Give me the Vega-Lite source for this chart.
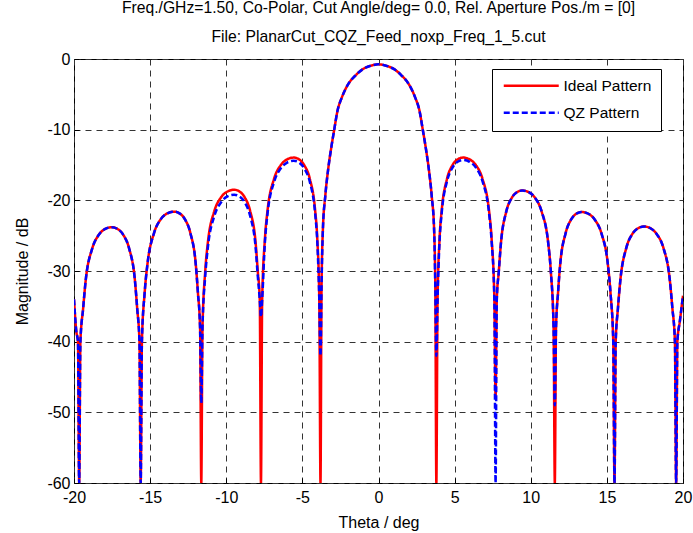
{
  "$schema": "https://vega.github.io/schema/vega-lite/v6.json",
  "autosize": "none",
  "width": 609,
  "height": 424,
  "padding": {"left": 74, "top": 59, "right": 10, "bottom": 50},
  "background": "white",
  "title": {
    "text": ["Freq./GHz=1.50, Co-Polar, Cut Angle/deg= 0.0, Rel. Aperture Pos./m = [0]", "File: PlanarCut_CQZ_Feed_noxp_Freq_1_5.cut"],
    "font": "Liberation Sans",
    "fontSize": 15.7,
    "fontWeight": "normal",
    "color": "black",
    "lineHeight": 29,
    "anchor": "middle",
    "offset": 5
  },
  "config": {
    "view": {"stroke": "black", "strokeWidth": 1},
    "axis": {
      "labelFont": "Liberation Sans",
      "labelFontSize": 16,
      "labelColor": "black",
      "titleFont": "Liberation Sans",
      "titleFontSize": 16,
      "titleFontWeight": "normal",
      "titleColor": "black",
      "domain": false,
      "ticks": true,
      "tickSize": -5,
      "tickColor": "black",
      "tickWidth": 1,
      "grid": true,
      "gridDash": [6, 5],
      "gridColor": "#333333",
      "gridWidth": 1
    },
    "legend": {
      "labelFont": "Liberation Sans",
      "labelFontSize": 15.5,
      "labelColor": "black"
    }
  },
  "data": {
    "values": [
      {"t": -20, "Ideal Pattern": -34, "QZ Pattern": -34},
      {"t": -19.85, "Ideal Pattern": -38.5, "QZ Pattern": -38.5},
      {"t": -19.74, "Ideal Pattern": -40, "QZ Pattern": -40},
      {"t": -19.66, "Ideal Pattern": -60, "QZ Pattern": -60},
      {"t": -19.58, "Ideal Pattern": -40, "QZ Pattern": -40},
      {"t": -19.4, "Ideal Pattern": -35.3, "QZ Pattern": -35.3},
      {"t": -19.23, "Ideal Pattern": -31.3, "QZ Pattern": -31.3},
      {"t": -18.8, "Ideal Pattern": -26.8, "QZ Pattern": -26.8},
      {"t": -18.38, "Ideal Pattern": -24.9, "QZ Pattern": -24.9},
      {"t": -17.95, "Ideal Pattern": -24.05, "QZ Pattern": -24.05},
      {"t": -17.52, "Ideal Pattern": -23.8, "QZ Pattern": -23.8},
      {"t": -17.14, "Ideal Pattern": -24.05, "QZ Pattern": -24.05},
      {"t": -16.76, "Ideal Pattern": -24.9, "QZ Pattern": -24.9},
      {"t": -16.38, "Ideal Pattern": -26.8, "QZ Pattern": -26.8},
      {"t": -16.0, "Ideal Pattern": -31.3, "QZ Pattern": -31.3},
      {"t": -15.85, "Ideal Pattern": -35.3, "QZ Pattern": -35.3},
      {"t": -15.7, "Ideal Pattern": -40, "QZ Pattern": -40},
      {"t": -15.62, "Ideal Pattern": -60, "QZ Pattern": -60},
      {"t": -15.54, "Ideal Pattern": -40, "QZ Pattern": -40},
      {"t": -15.36, "Ideal Pattern": -33.1, "QZ Pattern": -33.1},
      {"t": -15.18, "Ideal Pattern": -29.1, "QZ Pattern": -29.1},
      {"t": -14.74, "Ideal Pattern": -24.6, "QZ Pattern": -24.6},
      {"t": -14.31, "Ideal Pattern": -22.7, "QZ Pattern": -22.7},
      {"t": -13.87, "Ideal Pattern": -21.85, "QZ Pattern": -21.85},
      {"t": -13.43, "Ideal Pattern": -21.6, "QZ Pattern": -21.6},
      {"t": -13.07, "Ideal Pattern": -21.85, "QZ Pattern": -21.85},
      {"t": -12.71, "Ideal Pattern": -22.7, "QZ Pattern": -22.7},
      {"t": -12.36, "Ideal Pattern": -24.6, "QZ Pattern": -24.6},
      {"t": -12.0, "Ideal Pattern": -29.1, "QZ Pattern": -29.1},
      {"t": -11.86, "Ideal Pattern": -33.1, "QZ Pattern": -33.1},
      {"t": -11.72, "Ideal Pattern": -38, "QZ Pattern": -38},
      {"t": -11.64, "Ideal Pattern": -60, "QZ Pattern": -48.7},
      {"t": -11.56, "Ideal Pattern": -38, "QZ Pattern": -38},
      {"t": -11.38, "Ideal Pattern": -30.0, "QZ Pattern": -30.7},
      {"t": -11.21, "Ideal Pattern": -26.0, "QZ Pattern": -26.7},
      {"t": -10.78, "Ideal Pattern": -21.5, "QZ Pattern": -22.2},
      {"t": -10.35, "Ideal Pattern": -19.6, "QZ Pattern": -20.3},
      {"t": -9.92, "Ideal Pattern": -18.75, "QZ Pattern": -19.45},
      {"t": -9.48, "Ideal Pattern": -18.5, "QZ Pattern": -19.2},
      {"t": -9.13, "Ideal Pattern": -18.75, "QZ Pattern": -19.45},
      {"t": -8.78, "Ideal Pattern": -19.6, "QZ Pattern": -20.3},
      {"t": -8.43, "Ideal Pattern": -21.5, "QZ Pattern": -22.2},
      {"t": -8.07, "Ideal Pattern": -26.0, "QZ Pattern": -26.7},
      {"t": -7.93, "Ideal Pattern": -30.0, "QZ Pattern": -30.7},
      {"t": -7.8, "Ideal Pattern": -34, "QZ Pattern": -34},
      {"t": -7.72, "Ideal Pattern": -60, "QZ Pattern": -36.5},
      {"t": -7.64, "Ideal Pattern": -34, "QZ Pattern": -34},
      {"t": -7.46, "Ideal Pattern": -25.45, "QZ Pattern": -25.9},
      {"t": -7.29, "Ideal Pattern": -21.45, "QZ Pattern": -21.9},
      {"t": -6.86, "Ideal Pattern": -16.95, "QZ Pattern": -17.4},
      {"t": -6.43, "Ideal Pattern": -15.05, "QZ Pattern": -15.5},
      {"t": -6.0, "Ideal Pattern": -14.2, "QZ Pattern": -14.65},
      {"t": -5.57, "Ideal Pattern": -13.95, "QZ Pattern": -14.4},
      {"t": -5.22, "Ideal Pattern": -14.2, "QZ Pattern": -14.65},
      {"t": -4.87, "Ideal Pattern": -15.05, "QZ Pattern": -15.5},
      {"t": -4.51, "Ideal Pattern": -16.95, "QZ Pattern": -17.4},
      {"t": -4.16, "Ideal Pattern": -21.45, "QZ Pattern": -21.9},
      {"t": -4.02, "Ideal Pattern": -25.45, "QZ Pattern": -25.9},
      {"t": -3.89, "Ideal Pattern": -34, "QZ Pattern": -34},
      {"t": -3.81, "Ideal Pattern": -60, "QZ Pattern": -42},
      {"t": -3.74, "Ideal Pattern": -32, "QZ Pattern": -32},
      {"t": -3.65, "Ideal Pattern": -24, "QZ Pattern": -24},
      {"t": -3.5, "Ideal Pattern": -19.5, "QZ Pattern": -19.5},
      {"t": -3.3, "Ideal Pattern": -15.5, "QZ Pattern": -15.5},
      {"t": -3.1, "Ideal Pattern": -12.5, "QZ Pattern": -12.5},
      {"t": -2.9, "Ideal Pattern": -9.9, "QZ Pattern": -9.9},
      {"t": -2.7, "Ideal Pattern": -7.4, "QZ Pattern": -7.4},
      {"t": -2.4, "Ideal Pattern": -5.4, "QZ Pattern": -5.4},
      {"t": -2.0, "Ideal Pattern": -3.6, "QZ Pattern": -3.6},
      {"t": -1.5, "Ideal Pattern": -2.3, "QZ Pattern": -2.3},
      {"t": -1.0, "Ideal Pattern": -1.4, "QZ Pattern": -1.4},
      {"t": -0.5, "Ideal Pattern": -0.95, "QZ Pattern": -0.95},
      {"t": 0, "Ideal Pattern": -0.75, "QZ Pattern": -0.75},
      {"t": 0.5, "Ideal Pattern": -0.95, "QZ Pattern": -0.95},
      {"t": 1.0, "Ideal Pattern": -1.4, "QZ Pattern": -1.4},
      {"t": 1.5, "Ideal Pattern": -2.3, "QZ Pattern": -2.3},
      {"t": 2.0, "Ideal Pattern": -3.6, "QZ Pattern": -3.6},
      {"t": 2.4, "Ideal Pattern": -5.4, "QZ Pattern": -5.4},
      {"t": 2.7, "Ideal Pattern": -7.4, "QZ Pattern": -7.4},
      {"t": 2.9, "Ideal Pattern": -9.9, "QZ Pattern": -9.9},
      {"t": 3.1, "Ideal Pattern": -12.5, "QZ Pattern": -12.5},
      {"t": 3.3, "Ideal Pattern": -15.5, "QZ Pattern": -15.5},
      {"t": 3.5, "Ideal Pattern": -19.5, "QZ Pattern": -19.5},
      {"t": 3.65, "Ideal Pattern": -24, "QZ Pattern": -24},
      {"t": 3.73, "Ideal Pattern": -32, "QZ Pattern": -32},
      {"t": 3.8, "Ideal Pattern": -60, "QZ Pattern": -42},
      {"t": 3.88, "Ideal Pattern": -34, "QZ Pattern": -34},
      {"t": 4.01, "Ideal Pattern": -25.45, "QZ Pattern": -25.8},
      {"t": 4.15, "Ideal Pattern": -21.45, "QZ Pattern": -21.8},
      {"t": 4.5, "Ideal Pattern": -16.95, "QZ Pattern": -17.3},
      {"t": 4.85, "Ideal Pattern": -15.05, "QZ Pattern": -15.4},
      {"t": 5.2, "Ideal Pattern": -14.2, "QZ Pattern": -14.55},
      {"t": 5.55, "Ideal Pattern": -13.95, "QZ Pattern": -14.3},
      {"t": 5.98, "Ideal Pattern": -14.2, "QZ Pattern": -14.55},
      {"t": 6.41, "Ideal Pattern": -15.05, "QZ Pattern": -15.4},
      {"t": 6.83, "Ideal Pattern": -16.95, "QZ Pattern": -17.3},
      {"t": 7.26, "Ideal Pattern": -21.45, "QZ Pattern": -21.8},
      {"t": 7.43, "Ideal Pattern": -25.45, "QZ Pattern": -25.8},
      {"t": 7.61, "Ideal Pattern": -34, "QZ Pattern": -34},
      {"t": 7.69, "Ideal Pattern": -47.8, "QZ Pattern": -60},
      {"t": 7.77, "Ideal Pattern": -34, "QZ Pattern": -34},
      {"t": 7.9, "Ideal Pattern": -30.1, "QZ Pattern": -30.1},
      {"t": 8.04, "Ideal Pattern": -26.1, "QZ Pattern": -26.1},
      {"t": 8.39, "Ideal Pattern": -21.6, "QZ Pattern": -21.6},
      {"t": 8.74, "Ideal Pattern": -19.7, "QZ Pattern": -19.7},
      {"t": 9.09, "Ideal Pattern": -18.85, "QZ Pattern": -18.85},
      {"t": 9.44, "Ideal Pattern": -18.6, "QZ Pattern": -18.6},
      {"t": 9.87, "Ideal Pattern": -18.85, "QZ Pattern": -18.85},
      {"t": 10.3, "Ideal Pattern": -19.7, "QZ Pattern": -19.7},
      {"t": 10.72, "Ideal Pattern": -21.6, "QZ Pattern": -21.6},
      {"t": 11.15, "Ideal Pattern": -26.1, "QZ Pattern": -26.1},
      {"t": 11.32, "Ideal Pattern": -30.1, "QZ Pattern": -30.1},
      {"t": 11.5, "Ideal Pattern": -38, "QZ Pattern": -38},
      {"t": 11.58, "Ideal Pattern": -60, "QZ Pattern": -49},
      {"t": 11.66, "Ideal Pattern": -38, "QZ Pattern": -38},
      {"t": 11.79, "Ideal Pattern": -33.15, "QZ Pattern": -33.15},
      {"t": 11.93, "Ideal Pattern": -29.15, "QZ Pattern": -29.15},
      {"t": 12.29, "Ideal Pattern": -24.65, "QZ Pattern": -24.65},
      {"t": 12.64, "Ideal Pattern": -22.75, "QZ Pattern": -22.75},
      {"t": 12.99, "Ideal Pattern": -21.9, "QZ Pattern": -21.9},
      {"t": 13.34, "Ideal Pattern": -21.65, "QZ Pattern": -21.65},
      {"t": 13.78, "Ideal Pattern": -21.9, "QZ Pattern": -21.9},
      {"t": 14.21, "Ideal Pattern": -22.75, "QZ Pattern": -22.75},
      {"t": 14.64, "Ideal Pattern": -24.65, "QZ Pattern": -24.65},
      {"t": 15.07, "Ideal Pattern": -29.15, "QZ Pattern": -29.15},
      {"t": 15.24, "Ideal Pattern": -33.15, "QZ Pattern": -33.15},
      {"t": 15.42, "Ideal Pattern": -40, "QZ Pattern": -40},
      {"t": 15.5, "Ideal Pattern": -60, "QZ Pattern": -60},
      {"t": 15.58, "Ideal Pattern": -40, "QZ Pattern": -40},
      {"t": 15.73, "Ideal Pattern": -35.2, "QZ Pattern": -35.2},
      {"t": 15.89, "Ideal Pattern": -31.2, "QZ Pattern": -31.2},
      {"t": 16.28, "Ideal Pattern": -26.7, "QZ Pattern": -26.7},
      {"t": 16.66, "Ideal Pattern": -24.8, "QZ Pattern": -24.8},
      {"t": 17.05, "Ideal Pattern": -23.95, "QZ Pattern": -23.95},
      {"t": 17.44, "Ideal Pattern": -23.7, "QZ Pattern": -23.7},
      {"t": 17.86, "Ideal Pattern": -23.95, "QZ Pattern": -23.95},
      {"t": 18.28, "Ideal Pattern": -24.8, "QZ Pattern": -24.8},
      {"t": 18.71, "Ideal Pattern": -26.7, "QZ Pattern": -26.7},
      {"t": 19.13, "Ideal Pattern": -31.2, "QZ Pattern": -31.2},
      {"t": 19.3, "Ideal Pattern": -35.2, "QZ Pattern": -35.2},
      {"t": 19.47, "Ideal Pattern": -40, "QZ Pattern": -40},
      {"t": 19.55, "Ideal Pattern": -60, "QZ Pattern": -60},
      {"t": 19.63, "Ideal Pattern": -40, "QZ Pattern": -40},
      {"t": 19.8, "Ideal Pattern": -37, "QZ Pattern": -37},
      {"t": 20, "Ideal Pattern": -33.5, "QZ Pattern": -33.5}
    ]
  },
  "transform": [
    {"fold": ["Ideal Pattern", "QZ Pattern"], "as": ["series", "value"]}
  ],
  "mark": {"type": "line", "clip": true, "strokeWidth": 2.5, "interpolate": "monotone"},
  "encoding": {
    "x": {
      "field": "t",
      "type": "quantitative",
      "scale": {"domain": [-20, 20], "nice": false, "zero": false},
      "axis": {"title": "Theta / deg", "values": [-20, -15, -10, -5, 0, 5, 10, 15, 20], "labelExpr": "toString(datum.value)", "labelPadding": 11, "titlePadding": 9, "labelFlush": false}
    },
    "y": {
      "field": "value",
      "type": "quantitative",
      "scale": {"domain": [-60, 0], "nice": false, "zero": false},
      "axis": {"title": "Magnitude / dB", "values": [-60, -50, -40, -30, -20, -10, 0], "labelExpr": "toString(datum.value)", "labelPadding": 9, "titlePadding": 16, "labelFlush": false}
    },
    "color": {
      "field": "series",
      "type": "nominal",
      "scale": {"domain": ["Ideal Pattern", "QZ Pattern"], "range": ["#ff0000", "#0000ff"]},
      "legend": {
        "title": null,
        "orient": "none",
        "legendX": 418,
        "legendY": 10,
        "symbolType": "M-1,0H10",
        "symbolSize": 100,
        "symbolStrokeWidth": 2.5,
        "fillColor": "white",
        "strokeColor": "black",
        "cornerRadius": 0,
        "padding": 9,
        "rowPadding": 10,
        "labelOffset": 47,
        "labelExpr": "datum.label + '\u00a0\u00a0\u00a0\u00a0'"
      }
    },
    "strokeDash": {
      "field": "series",
      "type": "nominal",
      "scale": {"domain": ["Ideal Pattern", "QZ Pattern"], "range": [[1, 0], [6, 3]]},
      "legend": {
        "title": null,
        "orient": "none",
        "legendX": 418,
        "legendY": 10,
        "symbolType": "M-1,0H10",
        "symbolSize": 100,
        "symbolStrokeWidth": 2.5,
        "fillColor": "white",
        "strokeColor": "black",
        "cornerRadius": 0,
        "padding": 9,
        "rowPadding": 10,
        "labelOffset": 47,
        "labelExpr": "datum.label + '\u00a0\u00a0\u00a0\u00a0'"
      }
    }
  }
}
